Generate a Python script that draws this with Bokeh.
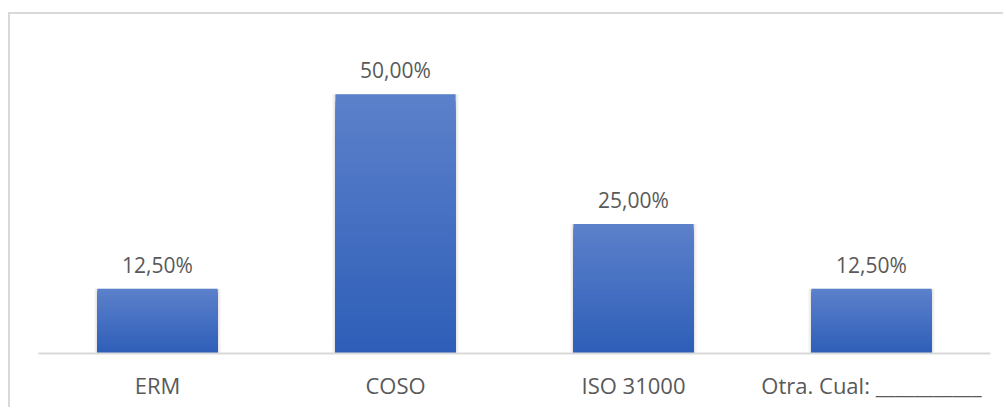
from bokeh.plotting import figure
from bokeh.models import FactorRange, Range1d, ColumnDataSource
from bokeh.core.properties import value
from bokeh.embed import file_html
from bokeh.resources import INLINE

categories = ["ERM", "COSO", "ISO 31000", "Otra. Cual: ___________"]
values = [0.125, 0.50, 0.25, 0.125]
labels = ["12,50%", "50,00%", "25,00%", "12,50%"]

FONT = "Open Sans"
TEXT_COLOR = "#595959"
BOTTOM_RGB = (0x2E, 0x5E, 0xB8)
TOP_RGB = (0x5C, 0x81, 0xCB)
N_SLICES = 40

p = figure(
    x_range=FactorRange(*categories),
    y_range=Range1d(0, 0.6),
    width=995, height=395,
    output_backend="svg", toolbar_location=None,
    min_border_left=28, min_border_right=15,
    min_border_top=28, min_border_bottom=56,
)
# chart-area border, cropped by the window on the right and bottom
p.styles = {"margin-left": "8px", "margin-top": "12px",
            "border-top": "2px solid #d9d9d9", "border-left": "2px solid #d9d9d9"}
p.outline_line_color = None
p.xgrid.grid_line_color = None
p.ygrid.grid_line_color = None
p.yaxis.visible = False

# soft shadow behind bars
p.vbar(x=categories, top=values, width=0.53, bottom=0, fill_color="#000000",
       fill_alpha=0.05, line_color=None)
p.vbar(x=categories, top=values, width=0.515, bottom=0, fill_color="#000000",
       fill_alpha=0.06, line_color=None)

# gradient bars: nested bars from 0 to a fraction of each value, darker lower down
xs, tops, cols = [], [], []
for k in range(N_SLICES, 0, -1):
    t = (k - 0.5) / N_SLICES
    rgb = tuple(round(b + (tp - b) * t) for b, tp in zip(BOTTOM_RGB, TOP_RGB))
    for c, v in zip(categories, values):
        xs.append(c)
        tops.append(v * k / N_SLICES)
        cols.append("#%02x%02x%02x" % rgb)
src = ColumnDataSource(dict(x=xs, top=tops, color=cols))
p.vbar(x="x", bottom=0, top="top", width=0.505, source=src,
       fill_color="color", line_color=None)

p.text(x=categories, y=values, text=labels, text_align="center",
       text_baseline="alphabetic", y_offset=-24, text_font=value(FONT),
       text_font_size="21px", text_color=TEXT_COLOR)

ax = p.xaxis[0]
ax.axis_line_color = "#d9d9d9"
ax.axis_line_width = 2
ax.major_tick_line_color = None
ax.minor_tick_line_color = None
ax.major_tick_out = 0
ax.major_tick_in = 0
ax.major_label_standoff = 16
ax.major_label_text_font = FONT
ax.major_label_text_font_size = "22px"
ax.major_label_text_color = TEXT_COLOR

open("out.html", "w").write(file_html(p, INLINE))
